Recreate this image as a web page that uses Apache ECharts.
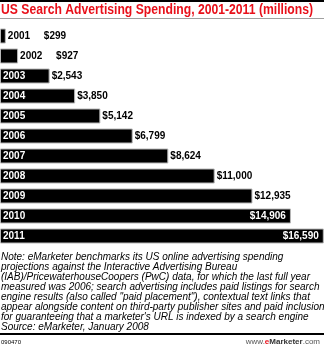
<!DOCTYPE html>
<html><head><meta charset="utf-8">
<script src="https://cdn.jsdelivr.net/npm/echarts@6/dist/echarts.min.js"></script>
<style>html,body{margin:0;padding:0;background:#fff}#c{width:324px;height:348px}</style>
</head><body><div id="c"></div>
<script>
const years = ['2001','2002','2003','2004','2005','2006','2007','2008','2009','2010','2011'];
const values = [299, 927, 2543, 3850, 5142, 6799, 8624, 11000, 12935, 14906, 16590];
const valueLabels = ['$299','$927','$2,543','$3,850','$5,142','$6,799','$8,624','$11,000','$12,935','$14,906','$16,590'];
const titleText = 'US Search Advertising Spending, 2001-2011 (millions)';
const noteLines = [
 'Note: eMarketer benchmarks its US online advertising spending',
 'projections against the Interactive Advertising Bureau',
 '(IAB)/PricewaterhouseCoopers (PwC) data, for which the last full year',
 'measured was 2006; search advertising includes paid listings for search',
 'engine results (also called "paid placement"), contextual text links that',
 'appear alongside content on third-party publisher sites and paid inclusion',
 'for guaranteeing that a marketer\'s URL is indexed by a search engine',
 'Source: eMarketer, January 2008'
];
const footerId = '090470';

const FONT = '"Liberation Sans", Arial, sans-serif';
const TITLE_FONT = 'bold 14px "Liberation Sans", Arial, sans-serif';
const ctx = document.createElement('canvas').getContext('2d');
ctx.font = TITLE_FONT;
const titleScale = 312 / ctx.measureText(titleText).width;

const chart = echarts.init(document.getElementById('c'), null, {renderer:'canvas'});

const yearData = values.map((v,i)=>{
  const outside = i < 2;
  return {
    value: v,
    label: outside
      ? {show:true, position:'right', distance:2, color:'#000'}
      : {show:true, position:'insideLeft', distance:3, color:'#fff'}
  };
});
const valData = values.map((v,i)=>{
  let lab;
  if (i < 2) lab = {show:true, position:'right', distance:2, offset:[36,0], color:'#000'};
  else if (i >= 9) lab = {show:true, position:'insideRight', distance:5, color:'#fff'};
  else lab = {show:true, position:'right', distance:2, color:'#000'};
  return {value:v, label:lab};
});

chart.setOption({
  animation:false,
  backgroundColor:'#fff',
  grid:{left:0, right:0, top:26, height:220},
  xAxis:{type:'value', min:0, max:16600, show:false},
  yAxis:{type:'category', data:years, inverse:true, show:false},
  series:[
    {
      type:'bar', data:yearData, barWidth:15, barGap:'-100%',
      itemStyle:{color:'#000', borderColor:'#b8b8b8', borderWidth:1},
      label:{formatter:(p)=>years[p.dataIndex], fontFamily:FONT, fontWeight:'bold', fontSize:10},
      clip:false, silent:true
    },
    {
      type:'bar', data:valData, barWidth:15, barGap:'-100%',
      itemStyle:{color:'rgba(0,0,0,0)'},
      label:{formatter:(p)=>valueLabels[p.dataIndex], fontFamily:FONT, fontWeight:'bold', fontSize:10},
      clip:false, silent:true, z:3
    }
  ],
  graphic:[
    {type:'rect', shape:{x:0,y:0,width:324,height:2}, style:{fill:'#000'}},
    {type:'text', x:1, y:3, scaleX:titleScale, style:{text:titleText, fill:'#e8101a', font:TITLE_FONT}},
    {type:'rect', shape:{x:0,y:18,width:324,height:1}, style:{fill:'#a0a0a0'}},
    {type:'text', left:1, top:252, style:{text:noteLines.join('\n'), fill:'#000', font:'italic 10px "Liberation Sans", Arial, sans-serif', lineHeight:10}},
    {type:'rect', shape:{x:0,y:333,width:324,height:2}, style:{fill:'#000'}},
    {type:'text', left:1, top:339, style:{text:footerId, fill:'#000', font:'6px "Liberation Sans", Arial, sans-serif'}},
    {type:'text', right:4, top:338, style:{
      text:'{a|www.}{b|e}{c|Marketer}{a|.com}',
      rich:{
        a:{fill:'#555', font:'8px "Liberation Sans", Arial, sans-serif'},
        b:{fill:'#e8101a', font:'bold 8px "Liberation Sans", Arial, sans-serif'},
        c:{fill:'#333', font:'bold 8px "Liberation Sans", Arial, sans-serif'}
      }
    }}
  ]
});
</script></body></html>
